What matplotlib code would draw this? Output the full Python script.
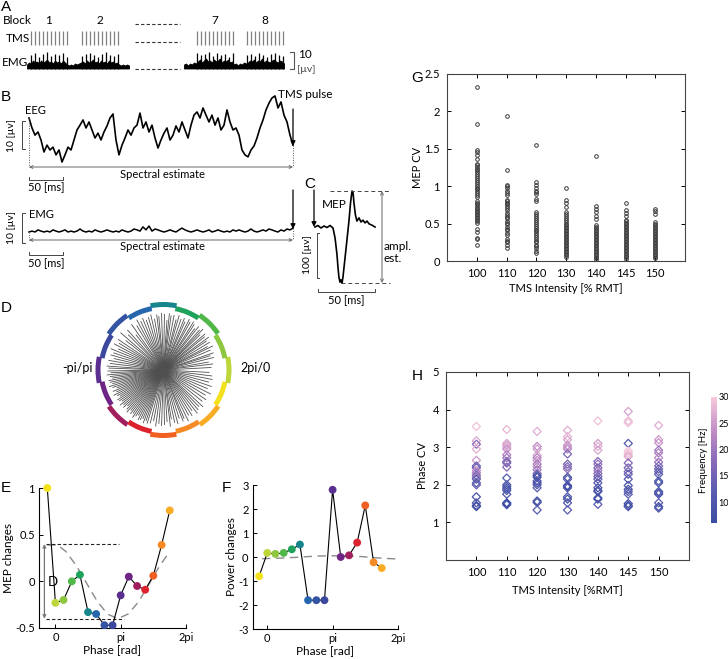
import numpy as np
import matplotlib
matplotlib.use('Agg')
import matplotlib.pyplot as plt
from matplotlib.colors import LinearSegmentedColormap, Normalize
from matplotlib.cm import ScalarMappable
from matplotlib.ticker import FormatStrFormatter

plt.rcParams['font.family'] = ['Lato', 'DejaVu Sans']
plt.rcParams['axes.linewidth'] = 0.8

# ---------------- data ----------------
# Panel A
block_labels = ['1', '2', '7', '8']
block_start_px = [30.7, 81.7, 196.7, 246.7]
pulses_per_block = 10
emg_a_seg1 = [4, 6, 5, 8, 6, 7, 5, 8, 6, 7, 9, 6, 7, 5, 8, 6, 7, 5, 8, 6, 4, 3, 4, 3, 5, 4,
              5, 6, 7, 5, 8, 6, 7, 9, 6, 7, 5, 8, 6, 7, 5, 8, 6, 7, 5, 6, 4, 3, 4, 3, 4, 3]
emg_a_seg2 = [4, 5, 3, 5, 4, 6, 5,
              7, 9, 6, 8, 10, 7, 8, 6, 9, 7, 8, 10, 6, 8, 7, 9, 6, 7,
              4, 5, 3, 5, 4, 6, 5,
              6, 8, 7, 9, 6, 8, 7, 10, 6, 8, 7, 6, 8, 9, 7, 6, 8, 7, 5]
mep_spikes = [14, 16, 12, 15, 17, 13, 15, 14, 16, 12,
              13, 15, 16, 14, 12, 15, 17, 14, 13, 15,
              16, 14, 15, 17, 13, 16, 14, 15, 12, 16,
              14, 15, 13, 16, 14, 12, 15, 16, 14, 13]

# Panel B (EEG and EMG, microvolts)
eeg_uv = [11.2, 7.7, 5.2, 6.3, 3.5, -0.7, 1.7, 0, 1.0, -1.7, 0, -4.2, -1.7, 1.0, 0, 3.5, 7.0, 8.7,
          10.5, 7.7, 9.8, 7.0, 4.2, 5.9, 3.5, 6.3, 8.4, 11.2, 12.6, 3.5, -1.7, 1.7, 4.2, 7.0, 5.2,
          7.7, 8.7, 12.9, 7.7, 9.8, 6.3, 8.7, 4.2, 0.7, 3.5, 5.9, 7.7, 3.5, 5.2, 8.4, 6.3, 9.8,
          7.0, 4.2, 8.7, 12.2, 13.3, 11.2, 14.7, 12.2, 9.8, 12.2, 8.7, 11.2, 7.0, 8.7, 14.0, 9.8,
          7.0, 7.7, 5.2, 0, -1.7, -2.4, 0, 1.4, 4.2, 7.7, 10.5, 14.0, 16.4, 18.2, 18.9, 14.7,
          16.8, 12.2, 9.8, 5.2, 1.7]
emg_b_uv = [0, 0.3, 0, 0.7, 0.3, 0, 0.3, 0, 0.7, 0.3,
            0, 0.3, 0.7, 0, 0.3, 0, 0.3, 1.0, 0.3, 0,
            0.3, 0, 0.7, 0.3, 0, 0.3, 0.7, 0.3, 0, 0.3,
            0, 0.7, 0.3, 0, 0.3, 1.0, 0.7, 0.3, 1.7, 0.7,
            2.0, 0.3, 1.0, 0.7, 0.3, 0, 0.3, 0.7, 0.3, 0,
            0.7, 1.3, 0.7, 0.3, 0, 0.3, 0.7, 0.3, 0, 0.3,
            0.7, 0, 0.3, 0.7, 0.3, 0, 0.3, 0, 0.7, 0.3,
            0.7, 0.3, 0, 0.3, 1.0, 0.3, 0, 0.3, 0.7, 0.3,
            1.0, 0.7, 0.3, 0, 0.7, 0.3, 1.0, 0.7, 1.3]

# Panel C (MEP)
mep_ms = [0, 2.6, 5.2, 7.9, 10.5, 13.1, 15.7, 17.5, 19.2, 20.1, 20.9, 21.8, 22.7, 23.6, 24.4,
          26.2, 27.9, 29.7, 31.0, 32.3, 33.2, 34.0, 35.3, 36.6, 38.4, 40.1, 41.9, 43.6, 45.4,
          47.1, 49.7, 52.4]
mep_uv = [0, 3.3, -2.2, 2.2, -1.1, 3.3, -2.2, -24, -61, -90, -110, -121, -116, -123, -110,
          -68, -28, 15, 53, 79, 75, 53, 26, 13, 20, 11, 15, 9, 13, 7, 4, 0]

# Panel D / E / F (phase bins)
phase_bins = [-0.39, 0.0, 0.39, 0.79, 1.18, 1.57, 1.96, 2.36, 2.75, 3.14, 3.53, 3.93, 4.32,
              4.71, 5.11, 5.50]
phase_colors = ['#f3e11b', '#bed63a', '#8dc63f', '#50b848', '#1fa35c', '#17868c', '#2566ac',
                '#3453a3', '#3b489e', '#5a2f8f', '#6e2585', '#a11f5c', '#dc222c', '#f06023',
                '#f58a26', '#f9ad27']
mep_changes = [1.0, -0.23, -0.2, 0.0, 0.07, -0.33, -0.35, -0.47, -0.47, -0.15, 0.05, -0.05,
               -0.09, 0.06, 0.39, 0.76]
power_changes = [-0.8, 0.17, 0.13, 0.17, 0.32, 0.52, -1.8, -1.8, -1.8, 2.8, 0.0, 0.07, 0.6,
                 2.15, -0.22, -0.46]
mep_fit_phase = [-0.4, 0.1, 0.5, 1.0, 1.5, 2.0, 2.5, 3.0, 3.5, 4.0, 4.5, 5.0, 5.5]
mep_fit_vals = [0.39, 0.39, 0.32, 0.17, -0.02, -0.21, -0.35, -0.40, -0.35, -0.22, -0.03, 0.16, 0.32]
pow_fit_phase = [-0.25, 0.5, 1.0, 1.5, 2.0, 2.5, 3.0, 3.5, 4.0, 4.5, 5.0, 5.5, 6.2]
pow_fit_vals = [-0.07, -0.05, -0.03, -0.01, 0.02, 0.04, 0.05, 0.05, 0.04, 0.02, -0.02, -0.05, -0.08]

line_angles_deg = [3, 7, 10, 14, 17, 19, 23, 26, 28, 31, 34, 36, 39, 41, 44, 46, 48, 51, 53, 56, 58,
                   61, 63, 66, 68, 71, 74, 76, 79, 82, 84, 86, 89, 92, 95, 97, 100, 103, 106, 109,
                   112, 115, 118,
                   121, 125, 128, 132, 135, 139, 142, 146, 149, 152, 155, 158, 161, 164, 167, 170,
                   173, 176, 178,
                   181, 183, 185, 187, 189, 191, 193, 195, 197, 199, 201, 203, 205, 207, 209, 211,
                   213, 215, 217, 219, 221, 223, 225, 227, 229, 231, 233, 235, 237, 239, 241, 243,
                   245, 247, 249, 251, 253, 256, 259, 262, 265, 268,
                   271, 274, 277, 279, 282, 285, 288, 291, 293, 296, 299, 302, 305, 308, 311, 314,
                   317, 321, 325, 329, 333, 337, 341, 345, 349, 353, 357]
line_lengths = [48, 50, 46, 52, 49, 53, 51, 55, 50, 54, 52, 56, 53, 55, 51, 57, 54, 56, 52, 55, 57,
                55, 57, 53, 56, 54, 57, 52, 56, 55, 57, 50, 56, 57, 54, 56, 52, 57, 55, 53, 56, 54, 57,
                52, 56, 45, 54, 50, 57, 48, 55, 52, 56, 50, 57, 53, 55, 51, 56, 54, 57, 55,
                56, 53, 57, 54, 52, 56, 55, 53, 57, 54, 50, 55, 52, 56, 53, 51, 55, 54, 52, 56, 53,
                55, 51, 54, 56, 52, 55, 53, 57, 54, 52, 56, 55, 53, 57, 54, 56, 55, 52, 57, 54, 56,
                55, 52, 57, 50, 54, 56, 51, 55, 53, 57, 52, 54, 50, 55, 53, 51, 54, 50, 52, 49, 53,
                48, 51, 47, 50, 49, 46]

# Panel G / H
intensities = ['100', '110', '120', '130', '140', '145', '150']
mep_cv = [
    [2.33, 1.83, 1.48, 1.46, 1.42, 1.36, 1.30, 1.28, 1.26, 1.23, 1.21, 1.19, 1.16, 1.13, 1.11, 1.08,
     1.05, 1.03, 1.00, 0.98, 0.96, 0.93, 0.91, 0.88, 0.86, 0.80, 0.78, 0.76, 0.73, 0.71, 0.69, 0.67,
     0.65, 0.63, 0.61, 0.59, 0.57, 0.55, 0.53, 0.51, 0.43, 0.39, 0.31, 0.29, 0.21],
    [1.94, 1.21, 1.02, 1.00, 0.97, 0.94, 0.91, 0.88, 0.82, 0.80, 0.78, 0.76, 0.73, 0.71, 0.68, 0.64,
     0.61, 0.59, 0.57, 0.54, 0.51, 0.49, 0.46, 0.43, 0.41, 0.38, 0.35, 0.30, 0.27, 0.25, 0.22, 0.18],
    [1.55, 1.05, 1.02, 0.98, 0.94, 0.92, 0.90, 0.83, 0.80, 0.65, 0.63, 0.60, 0.57, 0.55, 0.52, 0.50,
     0.47, 0.44, 0.42, 0.40, 0.37, 0.35, 0.32, 0.30, 0.27, 0.25, 0.22, 0.20, 0.17, 0.14, 0.11],
    [0.98, 0.82, 0.77, 0.72, 0.65, 0.63, 0.60, 0.57, 0.55, 0.52, 0.50, 0.48, 0.46, 0.44, 0.42, 0.40,
     0.38, 0.36, 0.34, 0.32, 0.30, 0.28, 0.26, 0.24, 0.22, 0.20, 0.18, 0.16, 0.14, 0.12, 0.10, 0.08,
     0.06],
    [1.40, 0.74, 0.70, 0.66, 0.60, 0.56, 0.48, 0.46, 0.44, 0.42, 0.40, 0.38, 0.36, 0.34, 0.32, 0.30,
     0.28, 0.26, 0.24, 0.22, 0.20, 0.18, 0.16, 0.14, 0.12, 0.10, 0.08, 0.06, 0.04, 0.02],
    [0.78, 0.68, 0.64, 0.60, 0.55, 0.53, 0.51, 0.49, 0.47, 0.45, 0.43, 0.41, 0.39, 0.37, 0.35, 0.33,
     0.31, 0.29, 0.27, 0.25, 0.23, 0.21, 0.19, 0.17, 0.15, 0.13, 0.11, 0.09, 0.07, 0.05, 0.03],
    [0.69, 0.67, 0.63, 0.52, 0.50, 0.48, 0.46, 0.44, 0.42, 0.40, 0.38, 0.36, 0.34, 0.32, 0.30, 0.28,
     0.26, 0.24, 0.22, 0.20, 0.18, 0.16, 0.14, 0.12, 0.10, 0.08, 0.06, 0.04],
]
phase_cv = [
    [3.55, 3.17, 3.08, 2.95, 2.65, 2.50, 2.45, 2.38, 2.32, 2.25, 2.20, 2.15, 2.05, 2.00, 1.68, 1.52, 1.45, 1.42],
    [3.47, 3.10, 3.05, 3.00, 2.95, 2.80, 2.72, 2.62, 2.58, 2.47, 2.18, 2.00, 1.95, 1.90, 1.85, 1.75, 1.52, 1.50, 1.47],
    [3.42, 3.02, 2.95, 2.78, 2.72, 2.65, 2.55, 2.48, 2.40, 2.30, 2.25, 2.20, 2.10, 2.05, 2.00, 1.92, 1.57, 1.53, 1.33],
    [3.45, 3.28, 3.20, 3.05, 3.00, 2.95, 2.82, 2.55, 2.48, 2.42, 2.20, 2.15, 1.98, 1.95, 1.92, 1.68, 1.62, 1.52, 1.33],
    [3.70, 3.10, 3.02, 2.92, 2.62, 2.55, 2.45, 2.38, 2.30, 2.22, 2.15, 2.05, 1.92, 1.85, 1.82, 1.65, 1.62, 1.48],
    [3.95, 3.70, 3.65, 3.10, 2.90, 2.85, 2.80, 2.75, 2.58, 2.45, 2.35, 2.28, 2.15, 1.98, 1.88, 1.82, 1.75, 1.50, 1.45, 1.42],
    [3.58, 3.20, 3.12, 2.92, 2.85, 2.72, 2.60, 2.50, 2.42, 2.35, 2.28, 2.10, 2.05, 1.82, 1.78, 1.75, 1.52, 1.42, 1.38],
]
phase_freq = [
    [29, 26, 18, 27, 25, 14, 15, 24, 21, 16, 20, 12, 11, 13, 9, 10, 8, 7],
    [28, 26, 25, 27, 24, 22, 20, 17, 16, 18, 11, 10, 9, 8, 10, 9, 7, 6, 8],
    [27, 23, 25, 26, 22, 24, 21, 23, 20, 18, 8, 7, 10, 9, 11, 12, 9, 8, 11],
    [27, 28, 26, 24, 25, 23, 16, 15, 17, 19, 9, 11, 8, 7, 10, 9, 8, 11, 12],
    [29, 25, 27, 26, 17, 19, 16, 20, 18, 15, 13, 11, 9, 8, 10, 7, 8, 12],
    [26, 28, 29, 10, 29, 30, 28, 27, 17, 15, 16, 13, 11, 10, 9, 11, 12, 8, 7, 9],
    [27, 25, 24, 20, 21, 23, 19, 16, 14, 13, 12, 10, 9, 8, 10, 11, 12, 8, 9],
]
freq_ticks = [10, 15, 20, 25, 30]

# ---------------- figure ----------------
W, H = 728, 659
fig = plt.figure(figsize=(W / 100, H / 100), dpi=100)


def frac(l, t, r, b):
    return [l / W, 1 - b / H, (r - l) / W, (b - t) / H]


sk = fig.add_axes([0, 0, 1, 1])
sk.set_xlim(0, W)
sk.set_ylim(H, 0)
sk.axis('off')

LETTER = dict(fontsize=11, family=['Liberation Sans', 'DejaVu Sans'], va='top', ha='left')
for lab, (lx, ly) in zip('ABCDEFGH', [(1, 0), (1, 90), (304, 177), (1, 301), (1, 481),
                                       (222, 481), (411, 71), (412, 369)]):
    sk.text(lx, ly, lab, **LETTER)

# ---- Panel A ----
sk.text(3, 21, 'Block', va='center', fontsize=8.5)
sk.text(6, 38, 'TMS', va='center', fontsize=8.5)
sk.text(2, 63, 'EMG', va='center', fontsize=8.5)
pulse_x = []
for lab, bs in zip(block_labels, block_start_px):
    sk.text(bs + 18, 20, lab, ha='center', va='center', fontsize=8.5)
    pulse_x.extend([bs + 4 * i for i in range(pulses_per_block)])
pulse_x = np.array(pulse_x)
sk.vlines(pulse_x, 31, 45, color='#808080', lw=0.9)
for yy in (24, 41.7, 69.3):
    sk.plot([135, 180], [yy, yy], color='#333', lw=0.8, ls=(0, (3, 2)))
base_a = 68.5
x1 = 27 + 2 * np.arange(len(emg_a_seg1))
x2 = 184 + 2 * np.arange(len(emg_a_seg2))
sk.fill_between(x1, base_a, base_a - np.array(emg_a_seg1), color='k', lw=0.6)
sk.fill_between(x2, base_a, base_a - np.array(emg_a_seg2), color='k', lw=0.6)
sk.vlines(pulse_x, base_a, base_a - np.array(mep_spikes), color='k', lw=0.9)
sk.plot([290, 294, 294, 290], [52, 52, 68.5, 68.5], color='#555', lw=0.8)
sk.text(298, 54, '10', va='center', fontsize=8.5)
sk.text(297, 70, '[µv]', va='center', fontsize=7.5, color='#444')

# ---- Panel B ----
eeg_x = 29 + 3 * np.arange(len(eeg_uv))
eeg_y = 150 - np.array(eeg_uv) * 2.86
sk.plot(eeg_x, eeg_y, color='k', lw=1.2)
sk.text(25, 111, 'EEG', va='center', fontsize=8)
sk.plot([25, 22, 22, 25], [120.7, 120.7, 149.3, 149.3], color='#444', lw=0.7)
sk.text(12, 135, '10 [µv]', rotation=90, ha='center', va='center', fontsize=7.5)
sk.plot([29, 29], [eeg_y[0], 167], color='#555', lw=0.7, ls=(0, (1, 1.5)))
sk.plot([eeg_x[-1], eeg_x[-1]], [eeg_y[-1], 167], color='#555', lw=0.7, ls=(0, (1, 1.5)))
ARR2 = dict(arrowstyle='<->', color='#666', lw=0.7, shrinkA=0, shrinkB=0, mutation_scale=5)
sk.annotate('', xy=(29, 167), xytext=(eeg_x[-1], 167), arrowprops=ARR2)
sk.text(162, 175, 'Spectral estimate', ha='center', va='center', fontsize=8)
sk.plot([29, 29, 62.7, 62.7], [177, 180, 180, 177], color='#444', lw=0.7)
sk.text(28, 188, '50 [ms]', va='center', fontsize=8)
sk.text(278, 95, 'TMS pulse', va='center', fontsize=8.5)
ARR1 = dict(arrowstyle='-|>', color='k', lw=0.9, shrinkA=0, shrinkB=0, mutation_scale=7)
sk.annotate('', xy=(eeg_x[-1], 146), xytext=(eeg_x[-1], 109), arrowprops=ARR1)

emg_x = 29 + 3 * np.arange(len(emg_b_uv))
emg_y = 232 - np.array(emg_b_uv) * 3
sk.plot(emg_x, emg_y, color='k', lw=1.1)
sk.text(29, 215, 'EMG', va='center', fontsize=8)
sk.plot([25, 22, 22, 25], [213, 213, 243, 243], color='#444', lw=0.7)
sk.text(12, 228, '10 [µv]', rotation=90, ha='center', va='center', fontsize=7.5)
sk.plot([29, 29], [emg_y[0], 240], color='#555', lw=0.7, ls=(0, (1, 1.5)))
sk.plot([emg_x[-1], emg_x[-1]], [emg_y[-1], 240], color='#555', lw=0.7, ls=(0, (1, 1.5)))
sk.annotate('', xy=(29, 240), xytext=(emg_x[-1], 240), arrowprops=ARR2)
sk.text(162, 247, 'Spectral estimate', ha='center', va='center', fontsize=8)
sk.plot([29, 29, 62.7, 62.7], [252, 255, 255, 252], color='#444', lw=0.7)
sk.text(28, 264, '50 [ms]', va='center', fontsize=8)
sk.annotate('', xy=(emg_x[-1], 229), xytext=(emg_x[-1], 190), arrowprops=ARR1)

# ---- Panel C ----
mep_x = 315 + np.array(mep_ms) * 1.146
mep_y = 227 - np.array(mep_uv) * 0.456
sk.plot(mep_x, mep_y, color='k', lw=1.2)
sk.annotate('', xy=(314, 227), xytext=(314, 190), arrowprops=ARR1)
sk.text(322, 205, 'MEP', va='center', fontsize=8.5)
top_y, bot_y = mep_y.min(), mep_y.max()
sk.plot([330, 390], [top_y, top_y], color='#444', lw=0.7, ls=(0, (4, 3)))
sk.plot([341, 390], [bot_y, bot_y], color='#444', lw=0.7, ls=(0, (4, 3)))
sk.annotate('', xy=(382, top_y), xytext=(382, bot_y),
            arrowprops=dict(arrowstyle='<->', color='#777', lw=0.8, shrinkA=0, shrinkB=0,
                            mutation_scale=5))
sk.text(384, 246, 'ampl.', va='center', fontsize=8.5)
sk.text(384, 258, 'est.', va='center', fontsize=8.5)
sk.plot([319, 316.5, 316.5, 319], [232.7, 232.7, 278.3, 278.3], color='#444', lw=0.7)
sk.text(308, 255, '100 [µv]', rotation=90, ha='center', va='center', fontsize=7.5)
sk.plot([317.7, 317.7, 375, 375], [288.7, 291.7, 291.7, 288.7], color='#444', lw=0.7)
sk.text(346, 301, '50 [ms]', ha='center', va='center', fontsize=8)

# ---- Panel D ----
pa = fig.add_axes(frac(93.5, 300, 233.5, 440), projection='polar')
pa.set_ylim(0, 70)
pa.axis('off')
pa.vlines(np.deg2rad(line_angles_deg), 0, line_lengths, color='#4f4f4f', lw=0.6)
ring_bottom = [60 if i % 2 == 0 else 63 for i in range(len(phase_bins))]
pa.bar(phase_bins, 5, width=0.40, bottom=ring_bottom, color=phase_colors, linewidth=0)
sk.text(93, 368, '-pi/pi', ha='right', va='center', fontsize=9)
sk.text(240, 368, '2pi/0', ha='left', va='center', fontsize=9)

# ---- Panels E, F ----
def phase_axes(ax, xlim, ylim, yticks, ylabel):
    ax.set_xlim(*xlim)
    ax.set_ylim(*ylim)
    for s in ('top', 'right'):
        ax.spines[s].set_visible(False)
    ax.set_xticks([0, np.pi, 2 * np.pi])
    ax.set_xticklabels(['0', 'pi', '2pi'])
    ax.set_yticks(yticks)
    ax.yaxis.set_major_formatter(FormatStrFormatter('%g'))
    ax.tick_params(direction='in', length=3, width=0.7, labelsize=8, pad=3)
    ax.set_xlabel('Phase [rad]', fontsize=8.5, labelpad=1)
    ax.set_ylabel(ylabel, fontsize=8.5, labelpad=1)


ax_e = fig.add_axes(frac(39, 488, 186, 628))
phase_axes(ax_e, (-0.79, 2 * np.pi), (-0.5, 1.0), [-0.5, 0, 0.5, 1], 'MEP changes')
ax_e.plot(mep_fit_phase, mep_fit_vals, color='#8a8a8a', lw=1.0, ls=(0, (6, 4)), zorder=1)
ax_e.hlines([0.4, -0.4], [-0.43, -0.43], [3.06, 3.3], colors='#222', lw=0.8,
            linestyles=(0, (3, 2)), zorder=1)
ax_e.annotate('', xy=(-0.53, 0.4), xytext=(-0.53, -0.4),
              arrowprops=dict(arrowstyle='<->', color='#777', lw=0.9, shrinkA=0, shrinkB=0,
                              mutation_scale=5))
ax_e.text(-0.36, -0.01, 'D', fontsize=9.5, va='center', ha='left')
ax_e.plot(phase_bins, mep_changes, color='k', lw=0.8, zorder=2)
ax_e.scatter(phase_bins, mep_changes, s=32, c=phase_colors, zorder=3, clip_on=False,
             linewidths=0)

ax_f = fig.add_axes(frac(252.7, 485, 398, 629))
phase_axes(ax_f, (-0.70, 2 * np.pi), (-3, 3), [-3, -2, -1, 0, 1, 2, 3], 'Power changes')
ax_f.plot(pow_fit_phase, pow_fit_vals, color='#8a8a8a', lw=1.0, ls=(0, (6, 4)), zorder=1)
ax_f.plot(phase_bins, power_changes, color='k', lw=0.8, zorder=2)
ax_f.scatter(phase_bins, power_changes, s=32, c=phase_colors, zorder=3, clip_on=False,
             linewidths=0)

# ---- Panel G ----
pos = np.arange(1, len(intensities) + 1)
ax_g = fig.add_axes(frac(447, 74, 685, 261))
for p, vals in zip(pos, mep_cv):
    ax_g.plot(np.full(len(vals), p), vals, 'o', ms=2.6, mfc='none', mec='#383838', mew=0.7)
ax_g.set_xlim(0, 8)
ax_g.set_ylim(0, 2.5)
ax_g.set_xticks(pos)
ax_g.set_xticklabels(intensities)
ax_g.set_yticks([0, 0.5, 1, 1.5, 2, 2.5])
ax_g.yaxis.set_major_formatter(FormatStrFormatter('%g'))
ax_g.tick_params(direction='in', top=True, right=True, length=3, width=0.7, labelsize=8, pad=5)
ax_g.set_xlabel('TMS Intensity [% RMT]', fontsize=8, labelpad=3)
ax_g.set_ylabel('MEP CV', fontsize=8, labelpad=1)
for s in ax_g.spines.values():
    s.set_color('#444')

# ---- Panel H ----
cmap = LinearSegmentedColormap.from_list(
    'freq', ['#3a4ea3', '#5a5cb0', '#8a6ab8', '#c690c7', '#f8cadc'])
norm = Normalize(6, 30)
ax_h = fig.add_axes(frac(446, 372, 689, 560))
for p, vals, fr in zip(pos, phase_cv, phase_freq):
    ax_h.scatter(np.full(len(vals), p), vals, marker='D', s=17, facecolors='none',
                 edgecolors=cmap(norm(np.array(fr))), linewidths=0.9)
ax_h.set_xlim(0, 8)
ax_h.set_ylim(0, 5)
ax_h.set_xticks(pos)
ax_h.set_xticklabels(intensities)
ax_h.set_yticks([1, 2, 3, 4, 5])
ax_h.tick_params(direction='in', top=True, right=True, length=3, width=0.7, labelsize=8, pad=5)
ax_h.set_xlabel('TMS Intensity [%RMT]', fontsize=8, labelpad=5)
ax_h.set_ylabel('Phase CV', fontsize=8, labelpad=3)
for s in ax_h.spines.values():
    s.set_color('#444')

cax = fig.add_axes(frac(711, 397, 717, 523))
cb = fig.colorbar(ScalarMappable(norm=norm, cmap=cmap), cax=cax)
cb.outline.set_visible(False)
cb.set_ticks(freq_ticks)
cb.ax.tick_params(labelsize=6.5, length=0, pad=1)
cb.set_label('Frequency [Hz]', fontsize=7, labelpad=2)
cb.ax.yaxis.set_label_position('left')

fig.savefig('out.png', dpi=100)
